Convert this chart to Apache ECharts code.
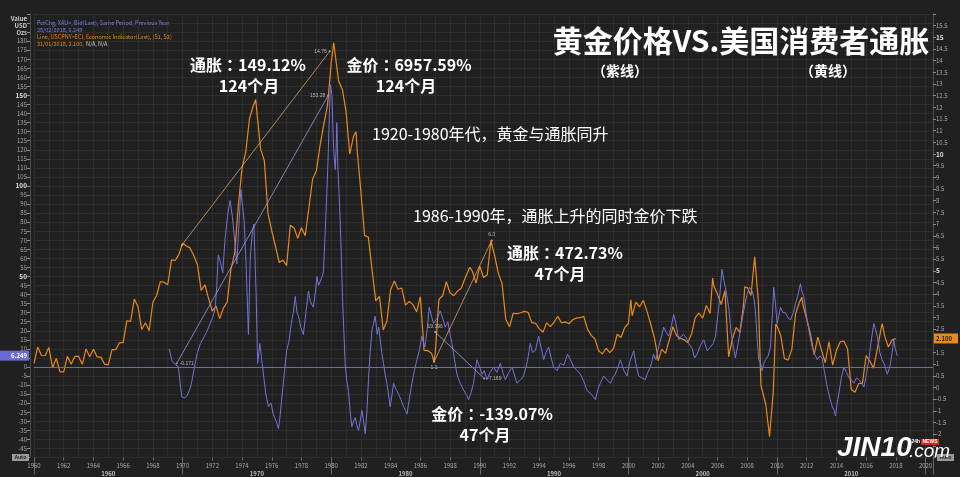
<!DOCTYPE html>
<html><head><meta charset="utf-8">
<script src="https://cdn.jsdelivr.net/npm/echarts@6/dist/echarts.min.js"></script>
<style>html,body{margin:0;padding:0;background:#202020}#c{width:960px;height:477px}</style>
</head><body><div id="c"></div>
<script>
// US CPI YoY % (right axis) [year, value]
const cpi = [
[1960.0,1.03],[1960.25,1.73],[1960.5,1.37],[1960.75,1.36],
[1961.0,1.71],[1961.25,0.85],[1961.5,1.25],[1961.75,0.67],
[1962.0,0.67],[1962.25,1.34],[1962.5,1.00],[1962.75,1.33],
[1963.0,1.33],[1963.25,0.99],[1963.5,1.65],[1963.75,1.32],
[1964.0,1.64],[1964.25,1.31],[1964.5,1.30],[1964.75,1.00],
[1965.0,0.97],[1965.25,1.62],[1965.5,1.62],[1965.75,1.92],
[1966.0,1.92],[1966.25,2.86],[1966.5,2.83],[1966.75,3.79],
[1967.0,3.46],[1967.25,2.48],[1967.5,2.77],[1967.75,2.43],
[1968.0,3.65],[1968.25,3.94],[1968.5,4.53],[1968.75,4.51],
[1969.0,4.40],[1969.25,5.47],[1969.5,5.44],[1969.75,5.70],
[1970.0,6.18],[1970.25,6.06],[1970.5,5.98],[1970.75,5.65],
[1971.0,5.26],[1971.25,4.16],[1971.5,4.40],[1971.75,3.81],
[1972.0,3.27],[1972.25,3.49],[1972.5,2.95],[1972.75,3.41],
[1973.0,3.65],[1973.25,5.06],[1973.5,5.73],[1973.75,7.80],
[1974.0,9.39],[1974.25,10.09],[1974.5,11.51],[1974.75,12.06],[1974.92,12.34],
[1975.0,11.80],[1975.25,10.21],[1975.5,9.72],[1975.75,7.44],
[1976.0,6.72],[1976.25,6.05],[1976.5,5.35],[1976.75,5.46],
[1977.0,5.22],[1977.25,6.95],[1977.5,6.83],[1977.75,6.39],
[1978.0,6.84],[1978.25,6.50],[1978.5,7.70],[1978.75,8.93],
[1979.0,9.28],[1979.25,10.36],[1979.5,11.26],[1979.75,12.07],[1979.92,13.29],
[1980.0,13.91],[1980.17,14.76],[1980.25,14.73],[1980.5,13.13],[1980.75,12.77],
[1981.0,11.83],[1981.25,10.00],[1981.5,10.76],[1981.67,10.95],[1981.75,10.14],
[1982.0,8.39],[1982.25,6.51],[1982.5,6.44],[1982.75,5.04],
[1983.0,3.71],[1983.25,3.90],[1983.5,2.46],[1983.75,2.85],
[1984.0,4.19],[1984.25,4.56],[1984.5,4.21],[1984.75,4.26],
[1985.0,3.53],[1985.25,3.69],[1985.5,3.55],[1985.75,3.24],
[1986.0,3.89],[1986.25,1.59],[1986.5,1.58],[1986.75,1.47],[1986.92,1.10],
[1987.0,1.46],[1987.25,3.78],[1987.5,3.93],[1987.75,4.53],
[1988.0,4.05],[1988.25,3.93],[1988.5,4.13],[1988.75,4.25],
[1989.0,4.67],[1989.33,5.15],[1989.5,4.98],[1989.75,4.47],
[1990.0,5.20],[1990.25,4.71],[1990.5,4.82],[1990.75,6.29],
[1991.0,5.65],[1991.25,4.89],[1991.5,4.45],[1991.75,2.92],
[1992.0,2.60],[1992.25,3.18],[1992.5,3.16],[1992.75,3.20],
[1993.0,3.26],[1993.25,3.22],[1993.5,2.78],[1993.75,2.75],
[1994.0,2.52],[1994.25,2.36],[1994.5,2.77],[1994.75,2.61],
[1995.0,2.80],[1995.25,3.05],[1995.5,2.76],[1995.75,2.81],
[1996.0,2.73],[1996.25,2.90],[1996.5,2.97],[1996.75,2.99],
[1997.0,3.04],[1997.25,2.50],[1997.5,2.23],[1997.75,2.08],
[1998.0,1.57],[1998.25,1.44],[1998.5,1.68],[1998.75,1.49],
[1999.0,1.67],[1999.25,2.28],[1999.5,2.14],[1999.75,2.56],
[2000.0,2.74],[2000.17,3.76],[2000.25,3.07],[2000.5,3.66],[2000.75,3.45],
[2001.0,3.73],[2001.25,3.27],[2001.5,2.72],[2001.75,2.13],[2001.92,1.55],
[2002.0,1.14],[2002.25,1.64],[2002.5,1.46],[2002.75,2.03],
[2003.0,2.60],[2003.25,2.22],[2003.5,2.11],[2003.75,2.04],
[2004.0,1.93],[2004.25,2.29],[2004.5,2.99],[2004.75,3.19],
[2005.0,2.97],[2005.25,3.51],[2005.5,3.17],[2005.67,4.69],[2005.75,4.35],
[2006.0,3.99],[2006.25,3.55],[2006.5,4.15],[2006.75,1.31],
[2007.0,2.08],[2007.25,2.57],[2007.5,2.36],[2007.75,3.54],[2007.83,4.31],
[2008.0,4.28],[2008.25,3.94],[2008.5,5.60],[2008.75,3.66],[2008.92,0.09],
[2009.0,0.03],[2009.25,-0.74],[2009.5,-2.10],[2009.75,-0.18],[2009.92,2.72],
[2010.0,2.63],[2010.25,2.24],[2010.5,1.24],[2010.75,1.17],
[2011.0,1.63],[2011.25,3.16],[2011.5,3.63],[2011.67,3.87],[2011.75,3.53],
[2012.0,2.93],[2012.25,2.30],[2012.5,1.41],[2012.75,2.16],
[2013.0,1.59],[2013.25,1.06],[2013.5,1.96],[2013.75,0.96],
[2014.0,1.58],[2014.25,1.95],[2014.5,1.99],[2014.75,1.66],
[2015.0,-0.09],[2015.25,-0.20],[2015.5,0.17],[2015.75,0.17],
[2016.0,1.37],[2016.25,1.13],[2016.5,0.83],[2016.75,1.64],
[2017.0,2.50],[2017.08,2.74],[2017.25,2.20],[2017.5,1.73],[2017.75,2.04],
[2018.0,2.10]
];
// Gold price YoY % (left axis) [year, value]
const gold = [
[1969.1,10],[1969.3,3],[1969.55,1],[1969.72,0.2],[1969.85,-10],[1969.95,-16.6],[1970.15,-17],[1970.3,-16],[1970.5,-12],[1970.62,-8],[1970.8,0],
[1971.0,8],[1971.2,13],[1971.4,16],[1971.6,19],[1971.85,24],[1972.05,28],[1972.2,33],[1972.3,45],[1972.4,62],[1972.55,58],[1972.7,52],[1972.85,70],
[1973.05,85],[1973.2,92],[1973.35,83],[1973.5,70],[1973.65,57],[1973.8,80],[1973.92,98],[1974.05,88],[1974.15,80],[1974.28,55],[1974.43,18],[1974.55,60],
[1974.7,75],[1974.8,79],[1974.95,40],[1975.05,2],[1975.2,13],[1975.35,2],[1975.44,-4],[1975.6,-15],[1975.78,-22],[1975.95,-20],[1976.1,-26],[1976.3,-30],
[1976.45,-34],[1976.55,-28],[1976.68,-17],[1976.85,-3],[1977.0,9],[1977.15,14],[1977.35,26],[1977.45,30],[1977.58,39],[1977.7,30],[1977.8,28],[1977.95,22],
[1978.13,18],[1978.3,30],[1978.47,42],[1978.6,36],[1978.8,33],[1978.95,42],[1979.04,50],[1979.15,45],[1979.26,46],[1979.4,50],[1979.48,53],[1979.6,75],
[1979.7,95],[1979.78,112],[1979.88,140],[1979.95,156],[1980.05,150],[1980.16,121],[1980.27,109],[1980.33,120],[1980.38,135],[1980.45,110],[1980.53,96],
[1980.65,70],[1980.76,39],[1980.85,20],[1980.94,2],[1981.05,-8],[1981.16,-13],[1981.28,-25],[1981.39,-33],[1981.5,-30],[1981.62,-28],[1981.72,-32],
[1981.84,-35],[1981.95,-30],[1982.07,-24],[1982.18,-30],[1982.29,-37],[1982.4,-25],[1982.51,-7],[1982.62,8],[1982.74,20],[1982.85,24],[1982.96,28],
[1983.1,18],[1983.2,22],[1983.3,15],[1983.4,8],[1983.52,2],[1983.65,-5],[1983.75,-9],[1983.87,-16],[1983.97,-22],[1984.1,-15],[1984.2,-9],[1984.35,-12],
[1984.53,-15],[1984.7,-18],[1984.87,-22],[1985.0,-24],[1985.1,-26],[1985.25,-18],[1985.43,-9],[1985.6,-2],[1985.77,4],[1985.95,10],[1986.1,17],[1986.3,11],
[1986.45,20],[1986.6,33],[1986.75,28],[1986.89,24],[1987.05,26],[1987.2,28],[1987.34,31],[1987.5,27],[1987.68,22],[1987.85,25],[1988.0,18],[1988.13,13],
[1988.3,4],[1988.46,-4],[1988.63,-8],[1988.8,-11],[1989.0,-14],[1989.15,-16],[1989.25,-18],[1989.42,-14],[1989.58,-9],[1989.7,-2],[1989.81,4],[1989.95,1],
[1990.15,-4],[1990.3,-2],[1990.48,-7],[1990.7,-3],[1990.93,0],[1991.15,-3],[1991.38,2],[1991.55,-3],[1991.72,-7],[1991.95,-3],[1992.17,0],[1992.35,-5],
[1992.5,-9],[1992.75,-7],[1992.95,-5],[1993.2,3],[1993.4,13],[1993.55,8],[1993.74,9],[1993.96,17],[1994.15,10],[1994.3,4],[1994.45,8],[1994.63,11],
[1994.8,5],[1994.97,0],[1995.2,-2],[1995.42,2],[1995.65,1],[1995.91,7],[1996.1,4],[1996.32,0],[1996.55,-2],[1996.77,-4],[1997.0,-8],[1997.22,-13],
[1997.5,-15],[1997.78,-18],[1998.0,-11],[1998.17,-8],[1998.34,-5],[1998.55,-7],[1998.79,-9],[1998.95,-6],[1999.12,-4],[1999.3,0],[1999.46,4],[1999.7,-2],
[1999.91,-5],[2000.1,3],[2000.36,9],[2000.5,2],[2000.69,-5],[2000.9,-6],[2001.14,-7],[2001.3,-3],[2001.48,0],[2001.7,7],[2001.85,4],[2002.04,11],
[2002.2,16],[2002.38,22],[2002.55,19],[2002.71,17],[2002.9,23],[2003.05,29],[2003.2,24],[2003.39,15],[2003.55,17],[2003.72,18],[2003.9,16],[2004.06,13],
[2004.3,10],[2004.45,5],[2004.62,7],[2004.85,12],[2005.07,15],[2005.3,9],[2005.52,11],[2005.7,13],[2005.86,17],[2006.08,33],[2006.3,54],[2006.42,48],
[2006.53,44],[2006.75,33],[2006.9,20],[2006.98,15],[2007.2,5],[2007.43,15],[2007.65,26],[2007.85,35],[2007.99,40],[2008.15,44],[2008.33,42],[2008.45,38],
[2008.55,31],[2008.67,15],[2008.77,4],[2008.9,2],[2009.0,-2],[2009.12,2],[2009.23,4],[2009.4,6],[2009.56,11],[2009.7,30],[2009.78,44],[2009.9,35],
[2010.01,24],[2010.12,28],[2010.24,33],[2010.4,30],[2010.57,30],[2010.75,27],[2010.91,26],[2011.1,30],[2011.25,35],[2011.42,40],[2011.58,46],[2011.67,42],
[2011.8,39],[2011.92,32],[2012.03,26],[2012.2,18],[2012.37,11],[2012.55,7],[2012.71,4],[2012.88,6],[2013.04,5],[2013.2,-3],[2013.38,-11],[2013.55,-17],
[2013.72,-22],[2013.85,-24],[2013.94,-27],[2014.05,-20],[2014.16,-15],[2014.33,-6],[2014.5,0],[2014.67,-3],[2014.84,-6],[2015.0,-7],[2015.17,-9],
[2015.35,-6],[2015.51,-7],[2015.7,-9],[2015.85,-11],[2016.0,-5],[2016.18,4],[2016.35,15],[2016.52,24],[2016.62,21],[2016.75,17],[2016.92,8],[2017.08,4],
[2017.25,1],[2017.42,-4],[2017.55,-1],[2017.64,2],[2017.75,8],[2017.86,15],[2017.97,10],[2018.09,6.249]
];
// Trend annotation lines: [start, end] and endpoint labels
const cpiTrend1 = [[1969.95, 6.1], [1979.9, 14.4]];
const cpiTrend1Labels = ['', '14.76'];
const goldTrend1 = [[1969.6, 1.9], [1979.8, 150]];
const goldTrend1Labels = ['-0.171', '153.28'];
const cpiTrend2 = [[1986.92, 1.1], [1990.8, 6.3]];
const cpiTrend2Labels = ['1.1', '6.3'];
const goldTrend2 = [[1987.0, 19.3], [1990.3, -6.4]];
const goldTrend2Labels = ['19.396', '-7.169'];
const lastGold = '6.249';
const lastCpi = '2.100';

const F = '"Noto Sans CJK SC", "Noto Sans", sans-serif';
const FTC = '"Noto Sans CJK TC", "Noto Sans CJK SC", sans-serif';

function trendSeries(pts, labels, yIdx, color, pos) {
  return {
    type: 'line', xAxisIndex: 0, yAxisIndex: yIdx, silent: true, z: 4,
    symbol: 'circle', symbolSize: 2, showSymbol: true,
    itemStyle: {color: color},
    lineStyle: {color: color, width: 0.8},
    data: pts.map((p, i) => ({value: p, label: {show: labels[i] !== '', formatter: labels[i], position: pos[i], fontSize: 5, color: '#bbb', distance: 2}}))
  };
}

const chart = echarts.init(document.getElementById('c'), null, {renderer: 'canvas'});
const axisLabelCol = '#a8a8a8';
const option = {
  backgroundColor: '#202020',
  animation: false,
  grid: {left: 34, right: 27, top: 14, bottom: 19.5, show: false},
  xAxis: [
    {type: 'value', min: 1960, max: 2020.5, interval: 1,
     axisLine: {show: true, lineStyle: {color: '#4a4a4a'}}, axisTick: {show: false},
     axisLabel: {fontSize: 6, color: axisLabelCol, margin: 5, fontFamily: F,
       formatter: v => (v % 2 === 0 && v <= 2020) ? String(v) : ''},
     splitLine: {show: true, lineStyle: {color: '#2d2d2d', width: 1}}},
    {type: 'value', min: 1960, max: 2020.5, interval: 5, position: 'bottom',
     axisLine: {show: false}, axisTick: {show: false}, splitLine: {show: false},
     axisLabel: {fontSize: 6, fontWeight: 'bold', color: '#bdbdbd', margin: 13, fontFamily: F,
       formatter: v => (v % 10 === 5 && v < 2020) ? String(v - 5) : ''}},
    {type: 'value', min: 1960, max: 2020.5, interval: 10, position: 'bottom',
     axisLine: {show: false}, axisLabel: {show: false}, splitLine: {show: false},
     axisTick: {show: true, length: 17, lineStyle: {color: '#6a6a6a'}}},
    {type: 'value', min: 1960, max: 2020.5, interval: 2, position: 'bottom',
     axisLine: {show: false}, axisLabel: {show: false}, splitLine: {show: false},
     axisTick: {show: true, length: 3, lineStyle: {color: '#6a6a6a'}}}
  ],
  yAxis: [
    {type: 'value', min: -50, max: 195, interval: 5, position: 'left', offset: 4,
     axisLine: {show: true, lineStyle: {color: '#4a4a4a'}},
     axisTick: {show: true, length: 3, lineStyle: {color: '#8a8a8a'}},
     axisLabel: {fontSize: 6, color: axisLabelCol, margin: 3, fontFamily: F,
       formatter: v => (v > 180 || v < -45) ? '' : (v % 50 === 0 && v !== 0 ? '{b|' + v + '}' : String(v)),
       rich: {b: {fontSize: 6.5, fontWeight: 'bold', color: '#e0e0e0', fontFamily: F}}},
     splitLine: {show: true, lineStyle: {color: '#2d2d2d', width: 1}}},
    {type: 'value', min: -3, max: 16, interval: 0.5, position: 'right',
     axisLine: {show: true, lineStyle: {color: '#4a4a4a'}},
     axisTick: {show: true, length: 3, lineStyle: {color: '#8a8a8a'}},
     axisLabel: {fontSize: 6, color: axisLabelCol, margin: 3, fontFamily: F,
       formatter: v => (v > 15.5 || v < -2) ? '' : (v % 5 === 0 && v !== 0 ? '{b|' + v + '}' : String(v)),
       rich: {b: {fontSize: 6.5, fontWeight: 'bold', color: '#e0e0e0', fontFamily: F}}},
     splitLine: {show: false}}
  ],
  series: [
    {type: 'line', name: 'CPI', xAxisIndex: 0, yAxisIndex: 1, data: cpi, showSymbol: false, z: 2,
     lineStyle: {color: '#e8891c', width: 1.2}, itemStyle: {color: '#e8891c'}},
    {type: 'line', name: 'Gold', xAxisIndex: 0, yAxisIndex: 0, data: gold, showSymbol: false, z: 3,
     lineStyle: {color: '#7474d8', width: 1}, itemStyle: {color: '#7474d8'},
     markLine: {silent: true, symbol: 'none', label: {show: false},
       lineStyle: {color: '#6c6cb4', width: 1, type: 'solid'}, data: [{yAxis: 0}]}},
    trendSeries(cpiTrend1, cpiTrend1Labels, 1, '#d9a36a', ['left', 'left']),
    trendSeries(goldTrend1, goldTrend1Labels, 0, '#9a9ae0', ['right', 'left']),
    trendSeries(cpiTrend2, cpiTrend2Labels, 1, '#d9a36a', ['bottom', 'top']),
    trendSeries(goldTrend2, goldTrend2Labels, 0, '#a6a6e6', ['top', 'right'])
  ]
};
chart.setOption(option);

const yG = chart.convertToPixel({yAxisIndex: 0}, gold[gold.length - 1][1]);
const yC = chart.convertToPixel({yAxisIndex: 1}, cpi[cpi.length - 1][1]);

function T(text, x, y, font, fill, align, va) {
  return {type: 'text', x: x, y: y, z: 50,
    style: {text: text, font: font, fill: fill, align: align || 'center', verticalAlign: va || 'middle'}};
}
// bold annotation with a centred full-width colon
function A(text, x, y) {
  return {type: 'text', x: x, y: y, z: 50,
    style: {text: text.replace('：', '{c|：}'), font: 'bold 16px ' + F, fill: '#ffffff',
      align: 'center', verticalAlign: 'middle',
      rich: {c: {fontFamily: FTC, fontSize: 16, fontWeight: 'bold', fill: '#ffffff'}}}};
}
const bold16 = 'bold 16px ' + F;
const reg16 = '16px ' + F;
chart.setOption({graphic: [
  T('黄金价格VS.美国消费者通胀', 741, 41, 'bold 30px ' + F, '#ffffff'),
  T('（紫线）', 620, 71, 'bold 14px ' + F, '#ffffff'),
  T('（黄线）', 828, 71, 'bold 14px ' + F, '#ffffff'),
  A('通胀：149.12%', 248, 65),
  T('124个月', 249, 86, bold16, '#ffffff'),
  A('金价：6957.59%', 409, 65),
  T('124个月', 406, 86, bold16, '#ffffff'),
  T('1920-1980年代，黄金与通胀同升', 372, 134, reg16, '#ffffff', 'left'),
  T('1986-1990年，通胀上升的同时金价下跌', 413, 216, reg16, '#ffffff', 'left'),
  A('通胀：472.73%', 565, 253),
  T('47个月', 560, 274, bold16, '#ffffff'),
  A('金价：-139.07%', 492, 414),
  T('47个月', 485, 435, bold16, '#ffffff'),
  // legend header
  T('PctChg, XAU=, Bid(Last), Same Period, Previous Year', 37, 23, '5.5px ' + F, '#7d7de0', 'left'),
  T('28/02/2018, 6.249', 37, 29.5, '5.5px ' + F, '#7d7de0', 'left'),
  T('Line, USCPNY=ECI, Economic Indicator(Last), (S1, S2)', 37, 37, '5.5px ' + F, '#e8891c', 'left'),
  T('31/01/2018, 2.100,', 37, 43.5, '5.5px ' + F, '#e8891c', 'left'),
  T('N/A, N/A', 86, 43.5, '5.5px ' + F, '#cccccc', 'left'),
  T('Value', 27, 19, 'bold 6px ' + F, '#cfcfcf', 'right'),
  T('USD', 27, 26, 'bold 6px ' + F, '#cfcfcf', 'right'),
  T('Ozs', 27, 33, 'bold 6px ' + F, '#cfcfcf', 'right'),
  // last-value badges
  {type: 'rect', shape: {x: 0, y: yG - 5, width: 29, height: 10}, style: {fill: '#6b6bd8'}, z: 40},
  T(lastGold, 27, yG, 'bold 6px ' + F, '#ffffff', 'right'),
  {type: 'rect', shape: {x: 934, y: yC - 5, width: 24, height: 10}, style: {fill: '#e8891c'}, z: 40},
  T(lastCpi, 936, yC, 'bold 6px ' + F, '#222222', 'left'),
  // Auto boxes
  {type: 'rect', shape: {x: 12, y: 454, width: 17, height: 7}, style: {fill: '#9a9a9a'}, z: 40},
  T('Auto', 20.5, 457.5, 'bold 5px ' + F, '#222', 'center'),
  {type: 'rect', shape: {x: 937, y: 454, width: 17, height: 7}, style: {fill: '#9a9a9a'}, z: 40},
  T('Auto', 945.5, 457.5, 'bold 5px ' + F, '#222', 'center'),
  // watermark
  T('JIN10', 837, 448, 'italic bold 28px "Liberation Sans", sans-serif', '#ffffff', 'left'),
  T('.com', 909, 452, 'italic 19px "Liberation Sans", sans-serif', '#ffffff', 'left'),
  T('24h', 920, 442, 'bold 5px "Liberation Sans", sans-serif', '#ffffff', 'right'),
  {type: 'rect', shape: {x: 921, y: 439, width: 18, height: 6}, style: {fill: '#e02020'}, z: 40},
  T('NEWS', 930, 442, 'bold 5px "Liberation Sans", sans-serif', '#ffffff', 'center')
]});
</script>
</body></html>
